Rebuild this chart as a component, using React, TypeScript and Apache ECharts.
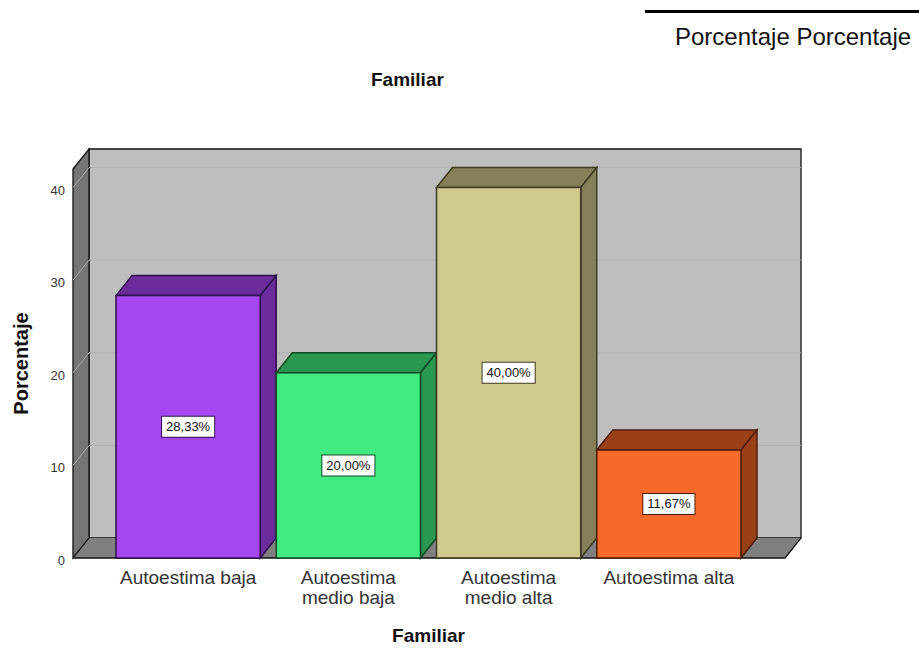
import React, { useEffect, useRef } from "react";
import * as echarts from "echarts";

const chartTitle = "Familiar";
const xTitle = "Familiar";
const yTitle = "Porcentaje";
const headerText = "Porcentaje Porcentaje";
const categories = ["Autoestima baja", "Autoestima\nmedio baja", "Autoestima\nmedio alta", "Autoestima alta"];
const values = [28.33, 20.0, 40.0, 11.67];
const gridValues = [10, 20, 30, 40];
const fronts = ["#A646F0", "#42EB7F", "#D0CA8F", "#F5692B"];
const sides = ["#6A2C9A", "#2A9650", "#857F5A", "#9A4019"];
const edges = ["#2E1050", "#0E4A24", "#3E3A20", "#4E1C06"];

const DX = 16;
const DY = -20;
const PAD_L = 35;
const PAD_R = 36;
const FONT = "'Liberation Sans', Arial, sans-serif";

export default function App() {
  const ref = useRef<HTMLDivElement>(null);
  useEffect(() => {
    const chart = echarts.init(ref.current!, null, { renderer: "svg" });
    chart.setOption({
      animation: false,
      backgroundColor: "#fff",
      textStyle: { fontFamily: FONT },
      title: {
        text: chartTitle,
        left: 366,
        top: 65,
        textStyle: { fontFamily: FONT, fontSize: 19, fontWeight: "bold", color: "#111" },
      },
      grid: { left: 108, right: 170, top: 169, bottom: 90, outerBoundsMode: "none" },
      xAxis: {
        type: "category",
        data: categories,
        axisLine: { show: false },
        axisTick: { show: false },
        axisLabel: { fontFamily: FONT, fontSize: 19, color: "#333", margin: 9, lineHeight: 20, interval: 0 },
        name: xTitle,
        nameLocation: "middle",
        nameGap: 68,
        nameTextStyle: { fontFamily: FONT, fontSize: 19, fontWeight: "bold", color: "#111" },
      },
      yAxis: {
        type: "value",
        min: 0,
        max: 42,
        interval: 10,
        offset: PAD_L,
        axisLine: { show: false },
        axisTick: { show: false },
        splitLine: { show: false },
        axisLabel: { fontFamily: FONT, fontSize: 13, color: "#333", margin: 8, showMaxLabel: false, verticalAlign: "top", lineHeight: 5 },
        name: yTitle,
        nameLocation: "middle",
        nameGap: 42,
        nameTextStyle: { fontFamily: FONT, fontSize: 20, fontWeight: "bold", color: "#111" },
      },
      series: [
        {
          type: "custom",
          silent: true,
          clip: false,
          data: [[0, 0]],
          renderItem: (params: any) => {
            const c = params.coordSys;
            const l = c.x - PAD_L;
            const r = c.x + c.width + PAD_R;
            const t = c.y;
            const b = c.y + c.height;
            return {
              type: "group",
              children: [
                { type: "rect", shape: { x: l + DX, y: t + DY, width: r - l, height: b - t }, style: { fill: "#BEBEBE", stroke: "#111", lineWidth: 1.3 } },
                { type: "polygon", shape: { points: [[l, b], [r, b], [r + DX, b + DY], [l + DX, b + DY]] }, style: { fill: "#808080", stroke: "none" } },
                { type: "polygon", shape: { points: [[l, t], [l + DX, t + DY], [l + DX, b + DY], [l, b]] }, style: { fill: "#757575", stroke: "#111", lineWidth: 1.3 } },
                { type: "polyline", shape: { points: [[l, b], [r, b], [r + DX, b + DY]] }, style: { fill: "none", stroke: "#111", lineWidth: 1.3 } },
              ],
            };
          },
        },
        {
          type: "custom",
          silent: true,
          clip: false,
          data: gridValues.map((v) => [0, v]),
          renderItem: (params: any, api: any) => {
            const c = params.coordSys;
            const l = c.x - PAD_L;
            const r = c.x + c.width + PAD_R;
            const y = api.coord([0, api.value(1)])[1];
            return {
              type: "group",
              children: [
                { type: "line", shape: { x1: l + DX, y1: y + DY, x2: r + DX, y2: y + DY }, style: { stroke: "#B2B2B2", lineWidth: 1 } },
                { type: "line", shape: { x1: l, y1: y, x2: l + DX, y2: y + DY }, style: { stroke: "#ABABAB", lineWidth: 1 } },
              ],
            };
          },
        },
        {
          type: "custom",
          clip: false,
          data: values.map((v, i) => [i, v]),
          encode: { x: 0, y: 1 },
          renderItem: (params: any, api: any) => {
            const i = params.dataIndex;
            const val = api.value(1);
            const [cx, top] = api.coord([api.value(0), val]);
            const [, base] = api.coord([api.value(0), 0]);
            const w = api.size([1, 0])[0] * 0.9;
            const l = cx - w / 2;
            const r = cx + w / 2;
            const stroke = edges[i];
            return {
              type: "group",
              children: [
                { type: "polygon", shape: { points: [[l, top], [l + DX, top + DY], [r + DX, top + DY], [r, top]] }, style: { fill: sides[i], stroke, lineWidth: 1.5 } },
                { type: "polygon", shape: { points: [[r, top], [r + DX, top + DY], [r + DX, base + DY], [r, base]] }, style: { fill: sides[i], stroke, lineWidth: 1.5 } },
                { type: "rect", shape: { x: l, y: top, width: w, height: base - top }, style: { fill: fronts[i], stroke, lineWidth: 1.5 } },
                {
                  type: "text",
                  x: cx,
                  y: (top + base) / 2,
                  style: {
                    text: val.toFixed(2).replace(".", ",") + "%",
                    fontFamily: FONT,
                    fontSize: 13,
                    fill: "#111",
                    align: "center",
                    verticalAlign: "middle",
                    backgroundColor: "#fff",
                    borderColor: stroke,
                    borderWidth: 1,
                    padding: [4, 4, 3, 4],
                  },
                },
              ],
            };
          },
        },
      ],
      graphic: [
        { type: "rect", shape: { x: 645, y: 10, width: 274, height: 3 }, style: { fill: "#000" } },
        { type: "text", x: 675, y: 24, style: { text: headerText, fontFamily: FONT, fontSize: 24, fill: "#111" } },
      ],
    });
    return () => chart.dispose();
  }, []);
  return <div ref={ref} style={{ position: "fixed", left: 0, top: 0, width: 919, height: 648 }} />;
}
